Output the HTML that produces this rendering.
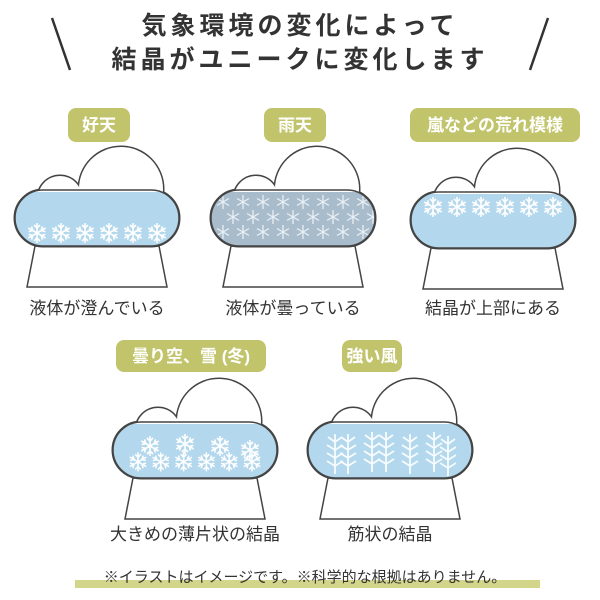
<!DOCTYPE html>
<html><head><meta charset="utf-8"><style>
html,body{margin:0;padding:0;background:#fff;}
svg{display:block;font-family:"Liberation Sans","Noto Sans CJK JP",sans-serif;}
</style></head><body>
<svg width="600" height="600" viewBox="0 0 600 600" xmlns="http://www.w3.org/2000/svg">
<defs>
<g id="shape">
<rect x="-82" y="0" width="164" height="56" rx="28"/>
<circle cx="-37" cy="8" r="22"/>
<circle cx="24" cy="-1" r="42"/>
</g>
<clipPath id="body"><rect x="-82" y="0" width="164" height="56" rx="28"/></clipPath>
<g id="cloudbase">
<polygon points="-62,56 62,56 70,97 -70,97" fill="#fff" stroke="#444" stroke-width="1.5"/>
<use href="#shape" fill="none" stroke="#444" stroke-width="3"/>
<use href="#shape" fill="#fff"/>
</g>
<g id="fl" stroke="#fff" stroke-width="1.6" fill="none">
<path d="M0,-10V10M-8.7,-5L8.7,5M-8.7,5L8.7,-5"/>
<path d="M-3,-8L0,-5L3,-8M-3,8L0,5L3,8M-8.4,-1.4L-4.3,-2.5L-5.4,-6.6M8.4,1.4L4.3,2.5L5.4,6.6M-8.4,1.4L-4.3,2.5L-5.4,6.6M8.4,-1.4L4.3,-2.5L5.4,-6.6"/>
</g>
<g id="row6">
<use href="#fl" x="-60"/><use href="#fl" x="-36"/><use href="#fl" x="-12"/><use href="#fl" x="12"/><use href="#fl" x="36"/><use href="#fl" x="60"/>
</g>
<g id="fs" stroke="#e8eff5" stroke-width="1.3" fill="none">
<path d="M0,-7V7M-6,-3.5L6,3.5M-6,3.5L6,-3.5"/>
</g>
<g id="row8">
<use href="#fs" x="-70"/><use href="#fs" x="-50"/><use href="#fs" x="-30"/><use href="#fs" x="-10"/><use href="#fs" x="10"/><use href="#fs" x="30"/><use href="#fs" x="50"/><use href="#fs" x="70"/>
</g>
<path id="fern" d="M0,28V-12M0,-4l-7,-5M0,-4l7,-5M0,4l-8,-5M0,4l8,-5M0,12l-8,-5M0,12l8,-5M0,20l-8,-5M0,20l8,-5" stroke="#fff" stroke-width="1.8" fill="none"/>
</defs>

<!-- title -->
<g fill="#333" font-weight="bold" font-size="25" text-anchor="middle" letter-spacing="4">
<text x="300" y="34">気象環境の変化によって</text>
<text x="300" y="68">結晶がユニークに変化します</text>
</g>
<line x1="52" y1="18" x2="70" y2="70" stroke="#333" stroke-width="2.5"/>
<line x1="548" y1="18" x2="530" y2="70" stroke="#333" stroke-width="2.5"/>

<!-- pills -->
<g fill="#c2c46c">
<rect x="68" y="108" width="62" height="34" rx="8"/>
<rect x="264" y="108" width="62" height="34" rx="8"/>
<rect x="410" y="108" width="170" height="34" rx="8"/>
<rect x="116" y="340" width="150" height="32" rx="8"/>
<rect x="342" y="340" width="60" height="32" rx="8"/>
</g>
<g fill="#fff" font-weight="bold" font-size="17" text-anchor="middle">
<text x="99" y="131">好天</text>
<text x="295" y="131">雨天</text>
<text x="495" y="131">嵐などの荒れ模様</text>
<text x="191" y="362">曇り空、雪 (冬)</text>
<text x="372" y="362">強い風</text>
</g>

<!-- cloud 1 -->
<g transform="translate(97,190)">
<use href="#cloudbase"/>
<rect x="-82" y="2" width="164" height="54" fill="#b3d7ec" clip-path="url(#body)"/>
<use href="#row6" y="43"/>
<rect x="-82" y="0" width="164" height="56" rx="28" fill="none" stroke="#444" stroke-width="1.5"/>
</g>
<!-- cloud 2 -->
<g transform="translate(293,190)">
<use href="#cloudbase"/>
<rect x="-82" y="2" width="164" height="54" fill="#a9bccc" clip-path="url(#body)"/>
<g clip-path="url(#body)">
<use href="#row8" y="12"/><use href="#row8" x="10" y="27"/><use href="#row8" y="42"/>
</g>
<rect x="-82" y="0" width="164" height="56" rx="28" fill="none" stroke="#444" stroke-width="1.5"/>
</g>
<!-- cloud 3 -->
<g transform="translate(493,192)">
<use href="#cloudbase"/>
<rect x="-82" y="2" width="164" height="54" fill="#b3d7ec" clip-path="url(#body)"/>
<use href="#row6" y="15"/>
<rect x="-82" y="0" width="164" height="56" rx="28" fill="none" stroke="#444" stroke-width="1.5"/>
</g>
<!-- cloud 4 -->
<g transform="translate(195,422)">
<use href="#cloudbase"/>
<rect x="-82" y="2" width="164" height="54" fill="#b3d7ec" clip-path="url(#body)"/>
<use href="#fl" x="-45" y="24"/><use href="#fl" x="-10" y="22"/><use href="#fl" x="25" y="24"/><use href="#fl" x="55" y="28"/>
<use href="#row6" y="42" transform="scale(0.95)"/>
<rect x="-82" y="0" width="164" height="56" rx="28" fill="none" stroke="#444" stroke-width="1.5"/>
</g>
<!-- cloud 5 -->
<g transform="translate(390,422)">
<use href="#cloudbase"/>
<rect x="-82" y="2" width="164" height="54" fill="#b3d7ec" clip-path="url(#body)"/>
<g opacity="0.9">
<use href="#fern" x="-55" y="24"/><use href="#fern" x="-42" y="24"/><use href="#fern" x="-18" y="22"/><use href="#fern" x="-4" y="22"/><use href="#fern" x="20" y="24"/><use href="#fern" x="44" y="22"/><use href="#fern" x="58" y="26"/>
</g>
<rect x="-82" y="0" width="164" height="56" rx="28" fill="none" stroke="#444" stroke-width="1.5"/>
</g>

<!-- captions -->
<g fill="#333" font-size="17" text-anchor="middle">
<text x="97" y="314">液体が澄んでいる</text>
<text x="293" y="314">液体が曇っている</text>
<text x="493" y="314">結晶が上部にある</text>
<text x="195" y="540">大きめの薄片状の結晶</text>
<text x="390" y="540">筋状の結晶</text>
</g>

<!-- footer -->
<rect x="75" y="580" width="465" height="8" fill="#d3d58a"/>
<text x="305" y="582" fill="#333" font-size="15" text-anchor="middle">※イラストはイメージです。※科学的な根拠はありません。</text>
</svg>
</body></html>
